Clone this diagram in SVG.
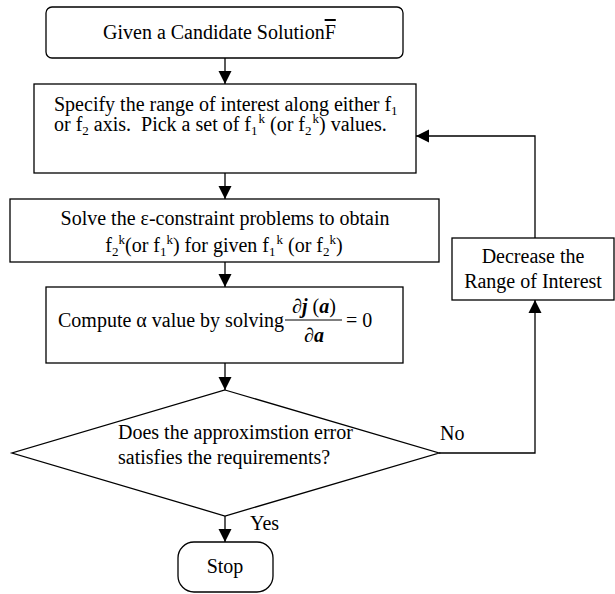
<svg xmlns="http://www.w3.org/2000/svg" width="615" height="594" viewBox="0 0 615 594">
<style>
  .box { fill: #fff; stroke: #000; stroke-width: 1.3; }
  .t { font-family: "Liberation Serif", "Times New Roman", serif; font-size: 20px; fill: #000; }
  .s { font-size: 13px; }
  .bi { font-weight: bold; font-style: italic; }
  .conn { fill: none; stroke: #000; stroke-width: 1.3; }
</style>
<defs>
  <marker id="arr" markerUnits="userSpaceOnUse" markerWidth="14" markerHeight="14" viewBox="0 0 14 14" refX="13" refY="7" orient="auto">
    <path d="M0,0.5 L13,7 L0,13.5 Z" fill="#000"/>
  </marker>
</defs>

<g id="connectors">
  <line class="conn" x1="225" y1="58" x2="225" y2="84" marker-end="url(#arr)"/>
  <line class="conn" x1="225" y1="173" x2="225" y2="199" marker-end="url(#arr)"/>
  <line class="conn" x1="225" y1="262" x2="225" y2="287" marker-end="url(#arr)"/>
  <line class="conn" x1="225" y1="363" x2="225" y2="390" marker-end="url(#arr)"/>
  <line class="conn" x1="225" y1="516" x2="225" y2="542" marker-end="url(#arr)"/>
  <polyline class="conn" points="439,453 535,453 535,300" marker-end="url(#arr)"/>
  <polyline class="conn" points="535,238 535,136 416,136" marker-end="url(#arr)"/>
  <text class="t" x="440" y="440">No</text>
  <text class="t" x="250" y="530">Yes</text>
</g>

<g id="start">
  <rect class="box" x="46" y="7" width="357" height="51" rx="6"/>
  <text class="t" x="103" y="39">Given a Candidate Solution<tspan text-decoration="overline">F</tspan></text>
</g>

<g id="specify">
  <rect class="box" x="34" y="84" width="382" height="89"/>
  <text class="t" x="54" y="111">Specify the range of interest along either f<tspan class="s" dy="4">1</tspan></text>
  <text class="t" x="54" y="131">or f<tspan class="s" dy="4">2</tspan><tspan dy="-4"> axis.&#160; Pick a set of f</tspan><tspan class="s" dy="4">1</tspan><tspan class="s" dy="-12" dx="1">k</tspan><tspan dy="8"> (or f</tspan><tspan class="s" dy="4">2</tspan><tspan class="s" dy="-12" dx="1">k</tspan><tspan dy="8">) values.</tspan></text>
</g>

<g id="solve">
  <rect class="box" x="10" y="199" width="429" height="63"/>
  <text class="t" x="225" y="225" text-anchor="middle">Solve the ε-constraint problems to obtain</text>
  <text class="t" x="224" y="252" text-anchor="middle">f<tspan class="s" dy="4">2</tspan><tspan class="s" dy="-12">k</tspan><tspan dy="8">(or f</tspan><tspan class="s" dy="4">1</tspan><tspan class="s" dy="-12">k</tspan><tspan dy="8">) for given f</tspan><tspan class="s" dy="4">1</tspan><tspan class="s" dy="-12" dx="1">k</tspan><tspan dy="8"> (or f</tspan><tspan class="s" dy="4">2</tspan><tspan class="s" dy="-12">k</tspan><tspan dy="8">)</tspan></text>
</g>

<g id="compute">
  <rect class="box" x="46" y="287" width="357" height="76"/>
  <text class="t" x="58" y="327">Compute α value by solving</text>
  <text class="t" x="314" y="313" text-anchor="middle">∂<tspan class="bi">j</tspan> (<tspan class="bi">a</tspan>)</text>
  <line x1="285" y1="320" x2="342" y2="320" stroke="#000" stroke-width="1"/>
  <text class="t" x="314" y="342" text-anchor="middle">∂<tspan class="bi">a</tspan></text>
  <text class="t" x="346" y="327">= 0</text>
</g>

<g id="decision">
  <polygon class="box" points="225,390 439,453 225,516 12,453"/>
  <text class="t" x="118" y="439">Does the approximstion error</text>
  <text class="t" x="118" y="464">satisfies the requirements?</text>
</g>

<g id="decrease">
  <rect class="box" x="452" y="238" width="162" height="62"/>
  <text class="t" x="533" y="263" text-anchor="middle">Decrease the</text>
  <text class="t" x="533" y="288" text-anchor="middle">Range of Interest</text>
</g>

<g id="stop">
  <rect class="box" x="178" y="542" width="95" height="50" rx="16"/>
  <text class="t" x="225" y="573" text-anchor="middle">Stop</text>
</g>
</svg>
